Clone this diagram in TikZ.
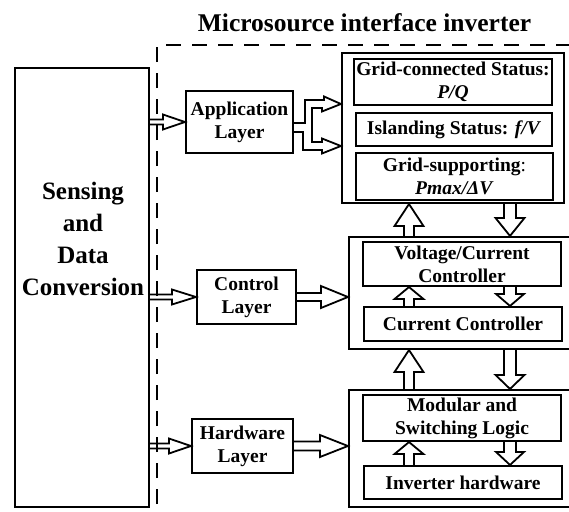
\documentclass[tikz,border=0pt]{standalone}
\usepackage{fontspec}
\setmainfont{Liberation Serif}
\usetikzlibrary{calc}
\tikzset{
  box/.style={draw, line width=2.1pt, inner sep=0pt, align=center, font=\fontsize{19.5}{23}\selectfont\bfseries},
  blk/.style={draw, line width=2.1pt, inner sep=0pt},
  arr/.style={draw, line width=1.8pt, line join=miter},
  frame/.style={line width=2pt, dash pattern=on 15pt off 11pt},
}
\newcommand\rarr[5]{\draw[arr] let \p1=#1, \p2=#2 in
  (\x1,\y1+#3pt) -- (\x2-#5pt,\y1+#3pt) -- (\x2-#5pt,\y1+#4pt) -- (\x2,\y1) -- (\x2-#5pt,\y1-#4pt) -- (\x2-#5pt,\y1-#3pt) -- (\x1,\y1-#3pt);}
\newcommand\uparr[5]{\draw[arr] let \p1=#1, \p2=#2 in
  (\x1-#3pt,\y1) -- (\x1-#3pt,\y2-#5pt) -- (\x1-#4pt,\y2-#5pt) -- (\x1,\y2) -- (\x1+#4pt,\y2-#5pt) -- (\x1+#3pt,\y2-#5pt) -- (\x1+#3pt,\y1);}
\newcommand\dnarr[5]{\draw[arr] let \p1=#1, \p2=#2 in
  (\x1-#3pt,\y1) -- (\x1-#3pt,\y2+#5pt) -- (\x1-#4pt,\y2+#5pt) -- (\x1,\y2) -- (\x1+#4pt,\y2+#5pt) -- (\x1+#3pt,\y2+#5pt) -- (\x1+#3pt,\y1);}
\begin{document}
\begin{tikzpicture}[x=1pt,y=-1pt]
\useasboundingbox (0,0) rectangle (569,511);
\fill[white] (0,0) rectangle (569,511);
\clip (0,0) rectangle (569,511);

% title
\node[anchor=base, font=\fontsize{25.5}{30}\selectfont\bfseries, inner sep=0pt] (title) at (364.5,32) {Microsource interface inverter};

% dashed frame
\draw[frame] (157,530) -- (157,45) -- (600,45);

% sensing box
\node[blk, minimum width=134pt, minimum height=439pt] (sdc) at (82,287.5) {};
\node[align=center, inner sep=0pt, font=\fontsize{25}{32}\selectfont\bfseries] (sdctext) at (83,239) {Sensing\\and\\Data\\Conversion};

% layer boxes
\node[box, minimum width=107pt, minimum height=62pt] (app) at (239.5,122) {Application\\Layer};
\node[box, minimum width=99pt, minimum height=54pt] (ctl) at (246.5,297) {Control\\Layer};
\node[box, minimum width=101pt, minimum height=54pt] (hw) at (242.5,446) {Hardware\\Layer};

% outer blocks
\node[blk, minimum width=222pt, minimum height=150pt] (top) at (453,128) {};
\node[blk, minimum width=241pt, minimum height=112pt] (mid) at (469.5,293) {};
\node[blk, minimum width=241pt, minimum height=117pt] (bot) at (469.5,448.5) {};

% inner boxes
\node[box, minimum width=198pt, minimum height=46pt] (gc) at (453,82) {Grid-connected Status:\\\textit{P/Q}};
\node[box, minimum width=196pt, minimum height=33pt] (isl) at (454,129.5) {Islanding Status: \textit{f/V}};
\node[box, minimum width=197pt, minimum height=47pt] (gs) at (454.5,176.5) {Grid-supporting\textmd{:}\\\textit{Pmax/ΔV}};
\node[box, minimum width=198pt, minimum height=44pt] (vc) at (462,264) {Voltage/Current\\Controller};
\node[box, minimum width=198pt, minimum height=34pt] (cc) at (463,324) {Current Controller};
\node[box, minimum width=198pt, minimum height=46pt] (mod) at (462,418) {Modular and\\Switching Logic};
\node[box, minimum width=198pt, minimum height=33pt] (inv) at (463,482.5) {Inverter hardware};

% horizontal arrows
\rarr{(sdc.east |- app.west)}{(app.west)}{2.5}{7.5}{22}
\rarr{(sdc.east |- ctl.west)}{(ctl.west)}{2.5}{7.5}{24}
\rarr{(sdc.east |- hw.west)}{(hw.west)}{2.5}{7.5}{22}
\rarr{(ctl.east)}{(ctl.east -| mid.west)}{4}{11}{27}
\rarr{(hw.east)}{(hw.east -| bot.west)}{4.5}{11}{28}

% forked arrow from application layer
\draw[arr] ($(app.east)+(0,1)$) --++(11,0) --++(0,-23) --++(19,0) --++(0,-3.5)
  -- ($(top.west |- app.east)+(0,-18)$) -- ++(-19,7.5) --++(0,-3.5) --++(-10,0) --++(0,34)
  --++(10,0) --++(0,-3.5) -- ($(top.west |- app.east)+(0,24)$) --++(-19,7.5) --++(0,-3.5)
  --++(-19,0) --++(0,-18) -- ($(app.east)+(0,10)$);

% vertical arrows
\coordinate (ux) at (409,0);
\coordinate (dx) at (510,0);
\uparr{(mid.north -| ux)}{(top.south -| ux)}{5}{14.5}{22}
\dnarr{(top.south -| dx)}{(mid.north -| dx)}{6}{14.5}{18}
\uparr{(cc.north -| ux)}{(vc.south -| ux)}{5}{14.5}{12}
\dnarr{(vc.south -| dx)}{(cc.north -| dx)}{6}{14}{12}
\uparr{(bot.north -| ux)}{(mid.south -| ux)}{5}{14.5}{22}
\dnarr{(mid.south -| dx)}{(bot.north -| dx)}{6}{14.5}{14}
\uparr{(inv.north -| ux)}{(mod.south -| ux)}{5}{14.5}{12}
\dnarr{(mod.south -| dx)}{(inv.north -| dx)}{6}{14}{13}
\end{tikzpicture}
\end{document}
